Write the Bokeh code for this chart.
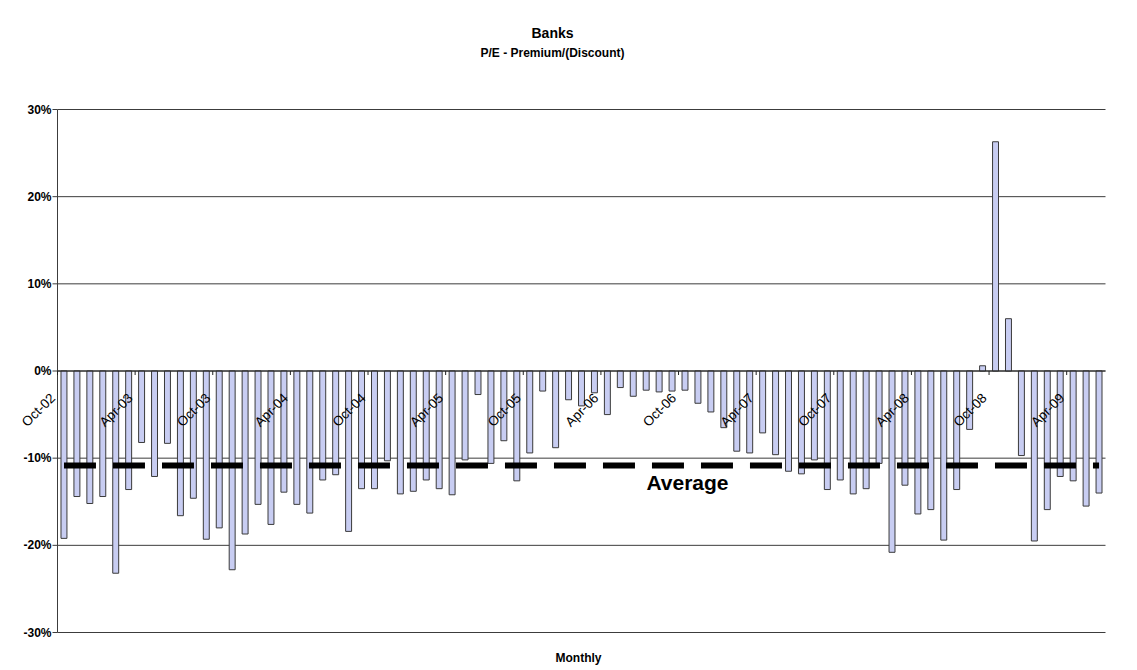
import numpy as np
import pandas as pd
from bokeh.plotting import figure
from bokeh.models import ColumnDataSource, Range1d
from bokeh.core.properties import value
from bokeh.embed import file_html
from bokeh.resources import INLINE

TITLE = "Banks"
SUBTITLE = "P/E - Premium/(Discount)"
X_TITLE = "Monthly"
AVERAGE_LABEL = "Average"

# Monthly categories Oct-02 .. Jun-09
MONTHS = [d.strftime("%b-%y") for d in pd.date_range("2002-10-01", periods=81, freq="MS")]

# P/E premium / (discount), %
PREMIUM = [
    -19.2, -14.4, -15.2, -14.4, -23.2, -13.6, -8.2, -12.1, -8.3, -16.6,
    -14.6, -19.3, -18.0, -22.8, -18.7, -15.3, -17.6, -13.9, -15.3, -16.3,
    -12.5, -11.9, -18.4, -13.5, -13.5, -10.3, -14.1, -13.8, -12.5, -13.5,
    -14.2, -10.2, -2.7, -10.6, -8.0, -12.6, -9.4, -2.3, -8.8, -3.3,
    -4.0, -2.5, -5.0, -1.9, -2.9, -2.2, -2.4, -2.3, -2.2, -3.7,
    -4.7, -6.5, -9.2, -9.4, -7.1, -9.6, -11.5, -11.8, -10.2, -13.6,
    -12.5, -14.1, -13.5, -10.6, -20.8, -13.1, -16.4, -15.9, -19.4, -13.6,
    -6.7, 0.6, 26.3, 6.0, -9.7, -19.5, -15.9, -12.1, -12.6, -15.5,
    -14.0,
]

TICK_LABELS = ["Oct-02", "Apr-03", "Oct-03", "Apr-04", "Oct-04", "Apr-05", "Oct-05",
               "Apr-06", "Oct-06", "Apr-07", "Oct-07", "Apr-08", "Oct-08", "Apr-09"]
Y_TICKS = [-30, -20, -10, 0, 10, 20, 30]
Y_TICK_LABELS = ["-30%", "-20%", "-10%", "0%", "10%", "20%", "30%"]

FONT = "Liberation Sans"
BAR_FILL = "#C8CDF2"
BAR_LINE = "#3a3a3a"
GRID = "#3c3c3c"

# canvas & plotting-area geometry (pixels)
W, H = 1129, 668
AREA_L, AREA_R, AREA_T, AREA_B = 57, 1105, 109, 632

n = len(PREMIUM)
idx = list(range(n))
average = float(np.mean(PREMIUM))

x_lo, x_hi = -0.5, n - 0.5
y_lo, y_hi = Y_TICKS[0], Y_TICKS[-1]
sx = (AREA_R - AREA_L) / (x_hi - x_lo)   # px per month
sy = (AREA_B - AREA_T) / (y_hi - y_lo)   # px per percent

x_range = Range1d(x_lo - AREA_L / sx, x_hi + (W - AREA_R) / sx)
y_range = Range1d(y_lo - (H - AREA_B) / sy, y_hi + AREA_T / sy)

p = figure(width=W, height=H, x_range=x_range, y_range=y_range,
           output_backend="svg", toolbar_location=None,
           x_axis_location=None, y_axis_location=None,
           min_border_left=0, min_border_right=0, min_border_top=0, min_border_bottom=0)
p.outline_line_color = None
p.background_fill_color = "white"
p.border_fill_color = "white"
p.xgrid.visible = False
p.ygrid.visible = False

# horizontal gridlines
p.segment(x0=[x_lo] * len(Y_TICKS), y0=Y_TICKS, x1=[x_hi] * len(Y_TICKS), y1=Y_TICKS,
          line_color=GRID, line_width=1)
# value axis
p.segment(x0=[x_lo], y0=[y_lo], x1=[x_lo], y1=[y_hi], line_color=GRID, line_width=1)
p.segment(x0=[x_lo - 5 / sx] * len(Y_TICKS), y0=Y_TICKS, x1=[x_lo] * len(Y_TICKS), y1=Y_TICKS,
          line_color=GRID, line_width=1)
p.text(x=[x_lo] * len(Y_TICKS), y=Y_TICKS, text=Y_TICK_LABELS, x_offset=-6,
       text_align="right", text_baseline="middle", text_font=value(FONT),
       text_font_size="12px", text_font_style="bold", text_color="black")

# bars
src = ColumnDataSource(dict(x=idx, top=PREMIUM, month=MONTHS))
p.vbar(x="x", top="top", bottom=0, width=0.46, source=src,
       fill_color=BAR_FILL, line_color=BAR_LINE, line_width=1)

# category axis on the zero line
p.segment(x0=[x_lo], y0=[0], x1=[x_hi], y1=[0], line_color="#222222", line_width=1.2)
tick_pos = [MONTHS.index(t) - 0.5 for t in TICK_LABELS]
p.segment(x0=tick_pos, y0=[0] * len(tick_pos), x1=tick_pos, y1=[-4 / sy] * len(tick_pos),
          line_color="#222222", line_width=1)
p.text(x=tick_pos, y=[0] * len(tick_pos), text=TICK_LABELS, angle=np.pi / 4,
       x_offset=-19, y_offset=39, text_align="center", text_baseline="middle",
       text_font=value(FONT), text_font_size="13.5px", text_color="black")

# average line
p.line(x=[idx[0], idx[-1]], y=[average, average], line_color="black", line_width=6,
       line_dash="32 17")
p.text(x=[x_lo + (687 - AREA_L) / sx], y=[average], text=[AVERAGE_LABEL], y_offset=17,
       text_align="center", text_baseline="middle", text_font=value(FONT),
       text_font_size="21px", text_font_style="bold", text_color="black")

# titles
x_mid = x_lo + (552 - AREA_L) / sx
p.text(x=[x_mid], y=[y_hi], text=[TITLE], y_offset=-(AREA_T - 32), text_align="center",
       text_baseline="middle", text_font=value(FONT), text_font_size="14px",
       text_font_style="bold", text_color="black")
p.text(x=[x_mid], y=[y_hi], text=[SUBTITLE], y_offset=-(AREA_T - 52), text_align="center",
       text_baseline="middle", text_font=value(FONT), text_font_size="12px",
       text_font_style="bold", text_color="black")
p.text(x=[x_lo + (578 - AREA_L) / sx], y=[y_lo], text=[X_TITLE], y_offset=657 - AREA_B,
       text_align="center", text_baseline="middle", text_font=value(FONT),
       text_font_size="12px", text_font_style="bold", text_color="black")

open("out.html", "w").write(file_html(p, INLINE))
